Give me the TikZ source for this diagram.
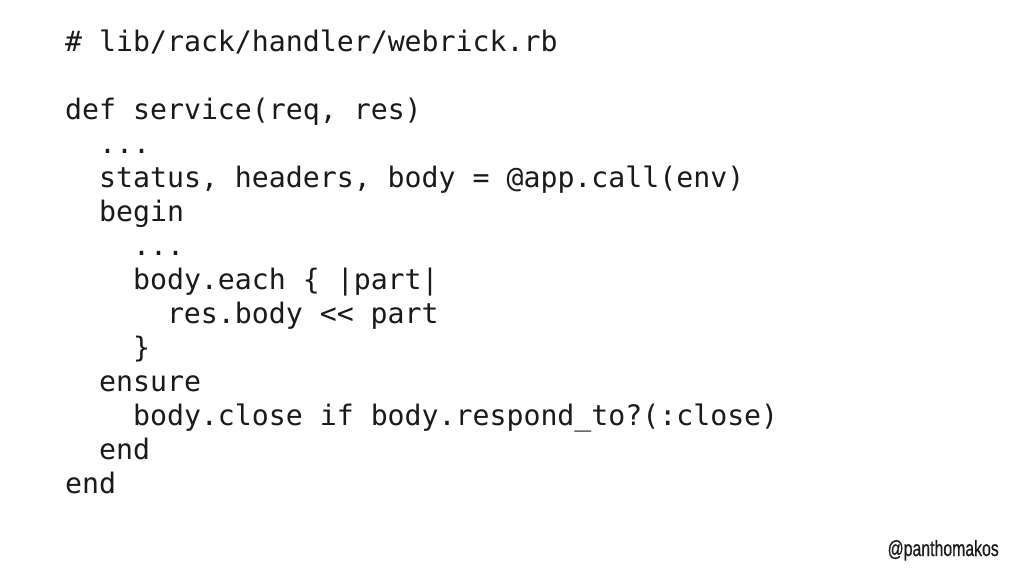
\documentclass[tikz,border=0pt]{standalone}
\usepackage{fontspec}
\setmonofont{DejaVu Sans Mono}
\newfontfamily\handlefont[FakeStretch=0.72,FakeBold=0.6]{Liberation Sans}
\definecolor{ink}{HTML}{1A1A1A}
\begin{document}
\begin{tikzpicture}[x=1pt,y=1pt,
  code/.style={anchor=base west,inner sep=0pt,text=ink,font=\ttfamily\fontsize{28.2}{34}\selectfont},
  handle/.style={anchor=base east,inner sep=0pt,text=ink,font=\handlefont\fontsize{22}{24}\selectfont}]
\useasboundingbox[fill=white] (0,0) rectangle (1024,576);
\def\cw{16.97}
\def\bl{524.5}
\node[code] (l0)  at (65,\bl) {\# lib/rack/handler/webrick.rb};
\node[code] (l2)  at (65,\bl-68) {def service(req, res)};
\node[code] (l3)  at (65+2*\cw,\bl-102) {...};
\node[code] (l4)  at (65+2*\cw,\bl-136) {status, headers, body = @app.call(env)};
\node[code] (l5)  at (65+2*\cw,\bl-170) {begin};
\node[code] (l6)  at (65+4*\cw,\bl-204) {...};
\node[code] (l7)  at (65+4*\cw,\bl-238) {body.each \{ |part|};
\node[code] (l8)  at (65+6*\cw,\bl-272) {res.body << part};
\node[code] (l9)  at (65+4*\cw,\bl-306) {\}};
\node[code] (l10) at (65+2*\cw,\bl-340) {ensure};
\node[code] (l11) at (65+4*\cw,\bl-374) {body.close if body.respond\_to?(:close)};
\node[code] (l12) at (65+2*\cw,\bl-408) {end};
\node[code] (l13) at (65,\bl-442) {end};
\node[handle] (h) at (999,20) {@panthomakos};
\end{tikzpicture}
\end{document}
